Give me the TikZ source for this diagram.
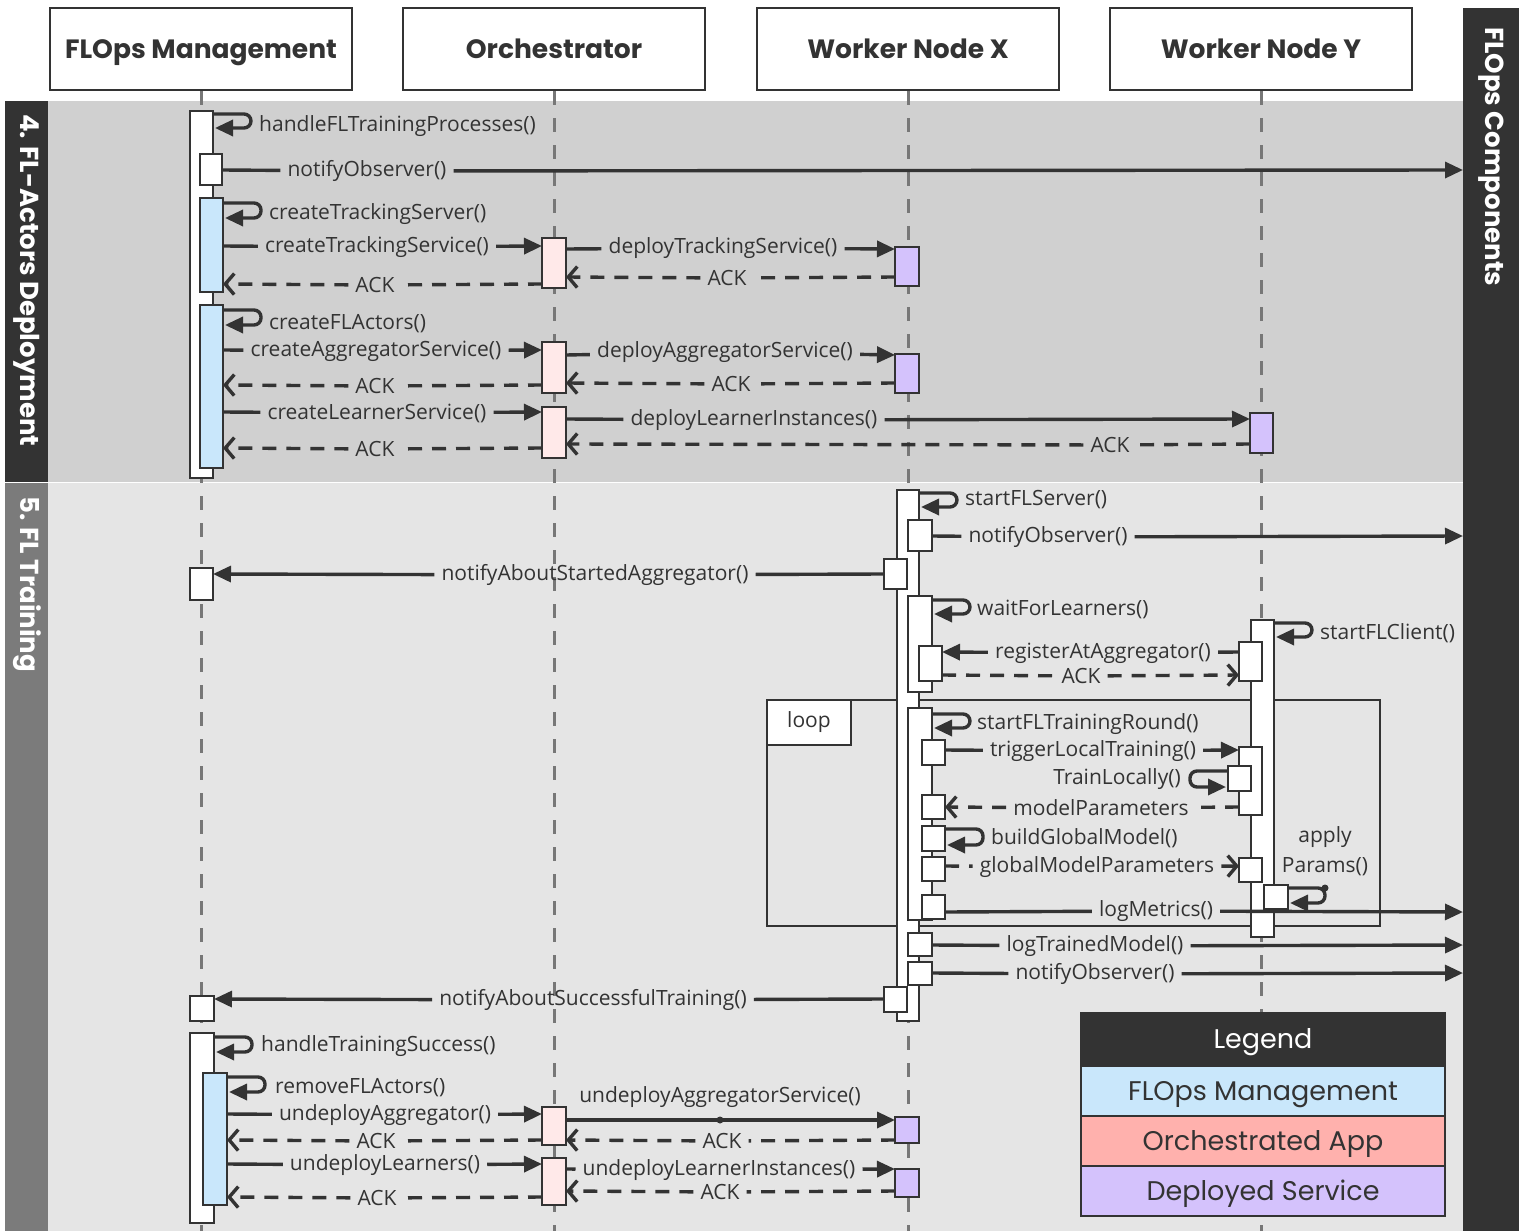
\documentclass[tikz,border=0pt]{standalone}
\usepackage{fontspec}
\setmainfont{Open Sans}
\newfontfamily\headfont{Poppins}
\usetikzlibrary{arrows.meta}
\definecolor{ink}{HTML}{333333}
\definecolor{life}{HTML}{777777}
\definecolor{secA}{HTML}{D0D0D0}
\definecolor{secB}{HTML}{E5E5E5}
\definecolor{stripB}{HTML}{7B7B7B}
\definecolor{mgmt}{HTML}{C9E7FB}
\definecolor{orch}{HTML}{FFE9E9}
\definecolor{dep}{HTML}{D4C2FC}
\definecolor{legOrch}{HTML}{FFB1AD}
\newcommand\abox[6]{\pgfmathsetmacro\bw{#4-#2}\pgfmathsetmacro\bh{#5-#3}\pgfmathsetmacro\bx{(#2+#4)/2}\pgfmathsetmacro\by{(#3+#5)/2}\node[act,fill=#6,minimum width=\bw pt,minimum height=\bh pt] (#1) at (\bx,\by) {};}
\newcommand\callmsg[5]{\node[lbl] (#3) at (#4) {#5}; \draw[msg] (#1) -- (#3); \draw[msg,calla] (#3) -- (#2);}
\newcommand\retmsg[5]{\node[lbl] (#3) at (#4) {#5}; \draw[msg,rdash] (#1) -- (#3); \draw[msg,rdash,reta] (#3) -- (#2);}
\newcommand\selfr[2]{\draw[msg,calla,rounded corners=7pt] (#1) -- ++(38,0) -- ++(0,#2) -- ++(-36,0);}
\begin{document}
\begin{tikzpicture}[x=1pt,y=-1pt,
  every node/.style={text=ink},
  act/.style={draw=ink,line width=2.6pt,inner sep=0pt,outer sep=0pt},
  msg/.style={draw=ink,line width=3.4pt},
  rdash/.style={dash pattern=on 14pt off 10pt},
  calla/.style={-{Triangle[length=18pt,width=16pt]}},
  reta/.style={-{Straight Barb[length=9pt,width=21pt]}},
  lbl/.style={font=\fontsize{21}{23}\selectfont, inner xsep=7pt, inner ysep=1pt},
  slbl/.style={font=\fontsize{21}{23}\selectfont, inner sep=0pt, anchor=west},
  head/.style={draw=ink,line width=2.6pt,fill=white,minimum width=302pt,minimum height=82pt,text height=24pt,text depth=4pt,inner ysep=0pt,font=\headfont\bfseries\fontsize{26.5}{30}\selectfont},
  lifeline/.style={draw=life,line width=3pt,dash pattern=on 14pt off 13pt},
  side/.style={rotate=-90,anchor=west,text=white,inner sep=0pt,font=\headfont\bfseries\fontsize{26}{30}\selectfont},
  leg/.style={draw=ink,line width=2.4pt,minimum width=364pt,minimum height=50pt,outer sep=0pt,text height=24pt,text depth=6pt,inner ysep=0pt,font=\headfont\fontsize{27}{30}\selectfont}
]
\useasboundingbox (0,0) rectangle (1519,1231);
\fill[white] (0,0) rectangle (1519,1231);
% sections
\fill[secA] (5,101) rectangle (1463,481.5);
\fill[secB] (5,482.5) rectangle (1463,1231);
\fill[ink] (5,101) rectangle (48,481.5);
\fill[stripB] (5,482.5) rectangle (48,1231);
\node[side] (s4) at (27,114) {4. FL-Actors Deployment};
\node[side] (s5) at (27,496) {5. FL Training};
% components bar
\node[fill=ink,minimum width=56pt,minimum height=1223pt,inner sep=0pt,outer sep=0pt] (comp) at (1491,619.5) {};
\node[side] (compt) at (1491,27) {FLOps Components};
% headers
\node[head] (hFM) at (201,49) {FLOps Management};
\node[head] (hOR) at (554,49) {Orchestrator};
\node[head] (hWX) at (908,49) {Worker Node X};
\node[head] (hWY) at (1261,49) {Worker Node Y};
\foreach \h in {hFM,hOR,hWX,hWY} \draw[lifeline] (\h.south) -- (\h.south |- 0,1231);
% loop frame
\draw[ink,line width=2.4pt] (767,700) rectangle (1380,926);
\node[draw=ink,line width=2.4pt,fill=white,minimum width=84pt,minimum height=45pt,inner sep=0pt,font=\fontsize{21}{23}\selectfont] (loopt) at (809,722.5) {loop};
% legend
\node[leg,fill=ink,text=white,minimum height=53pt] (legT) at (1263,1039.5) {Legend};
\node[leg,fill=mgmt,anchor=north] (legA) at (legT.south) {FLOps Management};
\node[leg,fill=legOrch,anchor=north] (legB) at (legA.south) {Orchestrated App};
\node[leg,fill=dep,anchor=north] (legC) at (legB.south) {Deployed Service};
% ---------- section 4 boxes
\abox{fm0}{190}{111}{213}{478}{white}
\abox{fm1}{200}{154}{222}{185}{white}
\abox{fm2}{200}{198}{223}{292}{mgmt}
\abox{fm3}{200}{305}{223}{468}{mgmt}
\abox{o1}{542}{238}{566}{288}{orch}
\abox{o2}{542}{342}{566}{393}{orch}
\abox{o3}{542}{407}{566}{458}{orch}
\abox{x1}{895}{247}{919}{286}{dep}
\abox{x2}{895}{354}{919}{393}{dep}
\abox{y1}{1250}{413}{1273}{453}{dep}
% ---------- section 5 boxes
\abox{xa}{897}{490}{919}{1021}{white}
\abox{xb}{908}{520}{932}{551}{white}
\abox{xc}{884}{559}{907}{589}{white}
\abox{fm4}{190}{568}{213}{600}{white}
\abox{xd}{908}{596}{932}{692}{white}
\abox{xe}{919}{646}{942}{681}{white}
\abox{ya}{1251}{620}{1274}{937}{white}
\abox{yb}{1239}{642}{1262}{681}{white}
\abox{xf}{908}{708}{932}{920}{white}
\abox{xg}{922}{740}{945}{765}{white}
\abox{yc}{1239}{747}{1262}{815}{white}
\abox{yd}{1228}{766}{1251}{791}{white}
\abox{xh}{922}{795}{945}{819}{white}
\abox{xi}{922}{826}{945}{851}{white}
\abox{xj}{922}{857}{945}{881}{white}
\abox{ye}{1239}{858}{1262}{882}{white}
\abox{yf}{1264}{885}{1288}{909}{white}
\abox{xk}{922}{895}{945}{919}{white}
\abox{xl}{908}{933}{932}{956}{white}
\abox{xm}{908}{962}{932}{985}{white}
\abox{xn}{884}{987}{907}{1012}{white}
\abox{fm5}{190}{996}{214}{1021}{white}
\abox{fm6}{190}{1033}{214}{1223}{white}
\abox{fm7}{203}{1073}{227}{1205}{mgmt}
\abox{o4}{542}{1107}{566}{1145}{orch}
\abox{o5}{542}{1158}{566}{1205}{orch}
\abox{x3}{895}{1117}{919}{1143}{dep}
\abox{x4}{895}{1169}{919}{1197}{dep}
% ---------- section 4 messages
\selfr{fm0.east |- 0,114}{14}
\node[slbl] (t1) at (259,126) {handleFLTrainingProcesses()};
\callmsg{fm1.east |- 0,170}{comp.west |- 0,170}{m1}{367,171}{notifyObserver()}
\selfr{fm2.east |- 0,203}{15}
\node[slbl] (t2) at (269,214) {createTrackingServer()};
\callmsg{fm2.east |- 0,246}{o1.west |- 0,246}{m2}{377,247}{createTrackingService()}
\callmsg{o1.east |- 0,249}{x1.west |- 0,249}{m3}{723,248}{deployTrackingService()}
\retmsg{x1.west |- 0,277}{o1.east |- 0,277}{m4}{727,278}{ACK}
\retmsg{o1.west |- 0,284}{fm2.east |- 0,284}{m5}{375,285}{ACK}
\selfr{fm3.east |- 0,310}{15}
\node[slbl] (t3) at (269,324) {createFLActors()};
\callmsg{fm3.east |- 0,350}{o2.west |- 0,350}{m6}{376,351}{createAggregatorService()}
\callmsg{o2.east |- 0,355}{x2.west |- 0,355}{m7}{725,352}{deployAggregatorService()}
\retmsg{x2.west |- 0,383}{o2.east |- 0,383}{m8}{731,384}{ACK}
\retmsg{o2.west |- 0,385}{fm3.east |- 0,385}{m9}{375,386}{ACK}
\callmsg{fm3.east |- 0,412}{o3.west |- 0,412}{m10}{377,413}{createLearnerService()}
\callmsg{o3.east |- 0,419}{y1.west |- 0,419}{m11}{754,420}{deployLearnerInstances()}
\retmsg{y1.west |- 0,444}{o3.east |- 0,444}{m12}{1110,445}{ACK}
\retmsg{o3.west |- 0,448}{fm3.east |- 0,448}{m13}{375,449}{ACK}
% ---------- section 5 messages
\selfr{xa.east |- 0,493}{14}
\node[slbl] (t4) at (965,500) {startFLServer()};
\callmsg{xb.east |- 0,536}{comp.west |- 0,536}{m14}{1048,537}{notifyObserver()}
\callmsg{xc.west |- 0,574}{fm4.east |- 0,574}{m15}{595,575}{notifyAboutStartedAggregator()}
\selfr{xd.east |- 0,600}{14}
\node[slbl] (t5) at (977,609) {waitForLearners()};
\selfr{ya.east |- 0,623}{14}
\node[slbl] (t6) at (1320,633) {startFLClient()};
\callmsg{yb.west |- 0,652}{xe.east |- 0,652}{m16}{1103,653}{registerAtAggregator()}
\retmsg{xe.east |- 0,675}{yb.west |- 0,675}{m17}{1081,676}{ACK}
\selfr{xf.east |- 0,714}{14}
\node[slbl] (t7) at (977,724) {startFLTrainingRound()};
\callmsg{xg.east |- 0,750}{yc.west |- 0,750}{m18}{1093,751}{triggerLocalTraining()}
\draw[msg,calla,rounded corners=7pt] (yd.west |- 0,771) -- ++(-38,0) -- ++(0,16) -- ++(36,0);
\node[slbl,anchor=east] (t8) at (1181,779) {TrainLocally()};
\retmsg{yc.west |- 0,807}{xh.east |- 0,807}{m19}{1101,808}{modelParameters}
\selfr{xi.east |- 0,829}{16}
\node[slbl] (t9) at (991,838) {buildGlobalModel()};
\retmsg{xj.east |- 0,866}{ye.west |- 0,866}{m20}{1097,867}{globalModelParameters}
\draw[msg,calla,rounded corners=7pt] (yf.east |- 0,888) -- ++(37,0) -- ++(0,15) -- ++(-35,0);
\fill[ink] (1325,888) circle (3.5pt);
\node[font=\fontsize{21}{30}\selectfont,align=center,inner sep=0pt] (t10) at (1325,851) {apply\\Params()};
\callmsg{xk.east |- 0,912}{comp.west |- 0,912}{m21}{1156,911}{logMetrics()}
\callmsg{xl.east |- 0,945}{comp.west |- 0,945}{m22}{1095,946}{logTrainedModel()}
\callmsg{xm.east |- 0,973}{comp.west |- 0,973}{m23}{1095,974}{notifyObserver()}
\callmsg{xn.west |- 0,999}{fm5.east |- 0,999}{m24}{593,1000}{notifyAboutSuccessfulTraining()}
\selfr{fm6.east |- 0,1037}{15}
\node[slbl] (t11) at (261,1046) {handleTrainingSuccess()};
\selfr{fm7.east |- 0,1077}{15}
\node[slbl] (t12) at (275,1088) {removeFLActors()};
\callmsg{fm7.east |- 0,1114}{o4.west |- 0,1114}{m25}{385,1115}{undeployAggregator()}
\draw[msg,calla] (o4.east |- 0,1120) -- (x3.west |- 0,1120);
\node[lbl] (m26) at (720,1097) {undeployAggregatorService()};
\fill[ink] (720,1120) circle (3.5pt);
\retmsg{x3.west |- 0,1140}{o4.east |- 0,1140}{m27}{722,1141}{ACK}
\retmsg{o4.west |- 0,1140}{fm7.east |- 0,1140}{m28}{376,1141}{ACK}
\callmsg{fm7.east |- 0,1164}{o5.west |- 0,1164}{m29}{385,1165}{undeployLearners()}
\callmsg{o5.east |- 0,1169}{x4.west |- 0,1169}{m30}{719,1170}{undeployLearnerInstances()}
\retmsg{x4.west |- 0,1191}{o5.east |- 0,1191}{m31}{720,1192}{ACK}
\retmsg{o5.west |- 0,1197}{fm7.east |- 0,1197}{m32}{377,1198}{ACK}
\end{tikzpicture}
\end{document}
